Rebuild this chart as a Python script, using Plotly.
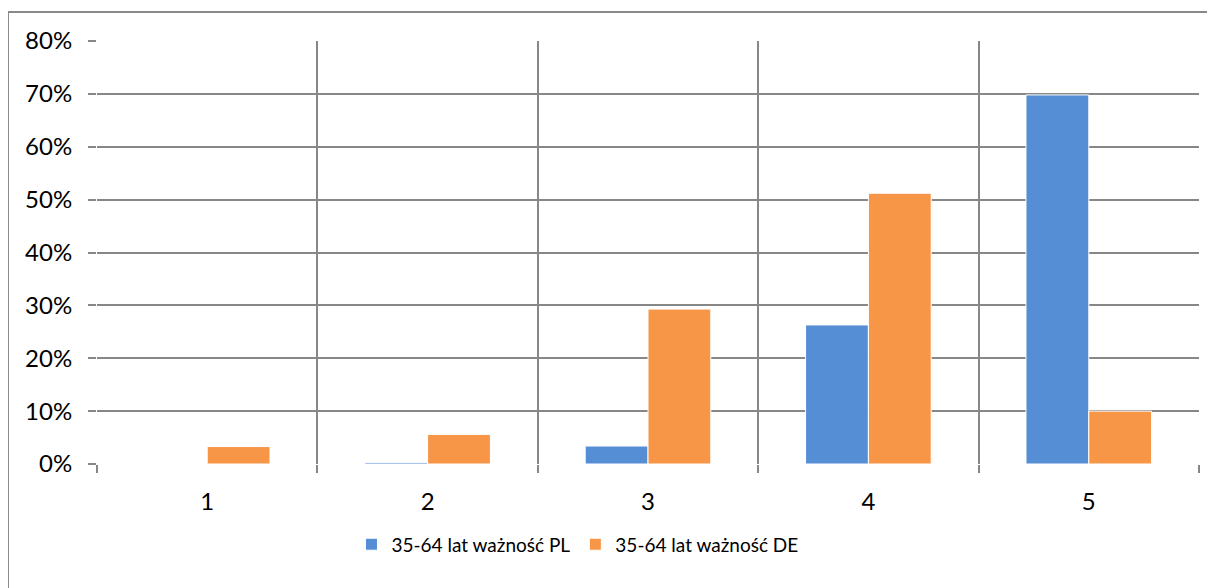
import plotly.graph_objects as go

categories = [1, 2, 3, 4, 5]
category_labels = ["1", "2", "3", "4", "5"]
pl_values = [0.0, 0.3, 3.4, 26.3, 69.8]
de_values = [3.3, 5.6, 29.3, 51.2, 10.0]
y_ticks = [0, 10, 20, 30, 40, 50, 60, 70, 80]
y_tick_labels = ["0%", "10%", "20%", "30%", "40%", "50%", "60%", "70%", "80%"]
series_names = ["35-64 lat ważność PL", "35-64 lat ważność DE"]

FONT = "Lato, 'Open Sans', sans-serif"
GRID = "#878787"

fig = go.Figure()
fig.add_trace(go.Bar(x=categories, y=pl_values, name=series_names[0],
                     marker=dict(color="#558ED5", line=dict(color="#ffffff", width=1))))
fig.add_trace(go.Bar(x=categories, y=de_values, name=series_names[1],
                     marker=dict(color="#F79646", line=dict(color="#ffffff", width=1))))

# page body has an 8px margin: plot area target 97..1199 x, 41..464 y (screen)
fig.update_layout(
    width=1215, height=588,
    margin=dict(l=89, r=24, t=33, b=132),
    paper_bgcolor="white", plot_bgcolor="white",
    barmode="group", bargap=0.43, bargroupgap=0,
    font=dict(family=FONT, size=24, color="#000000"),
    showlegend=True,
    legend=dict(orientation="h", x=0.436, xanchor="center", y=-0.19, yanchor="middle",
                font=dict(size=19), itemwidth=30, traceorder="normal"),
    xaxis=dict(
        range=[0.5, 5.5], tickmode="array", tickvals=categories, ticktext=category_labels,
        ticks="", showgrid=False, zeroline=False, showline=False,
        ticklabelstandoff=21,
        minor=dict(tickmode="array", tickvals=[0.5, 1.5, 2.5, 3.5, 4.5, 5.5], ticks="outside",
                   ticklen=8, tickcolor=GRID, tickwidth=2, showgrid=True,
                   gridcolor=GRID, gridwidth=2),
    ),
    yaxis=dict(
        range=[0, 80], tickmode="array", tickvals=y_ticks, ticktext=y_tick_labels,
        ticks="outside", ticklen=8, tickcolor=GRID, tickwidth=2,
        showgrid=True, gridcolor=GRID, gridwidth=2, zeroline=False, showline=False,
        ticklabelstandoff=11,
    ),
)

# outer chart border
fig.add_shape(type="rect", xref="paper", yref="paper",
              x0=-0.0808, x1=1.05, y0=-0.35, y1=1.0686,
              line=dict(color="#898989", width=2), fillcolor="rgba(0,0,0,0)", layer="below")

fig.write_html("out.html")
